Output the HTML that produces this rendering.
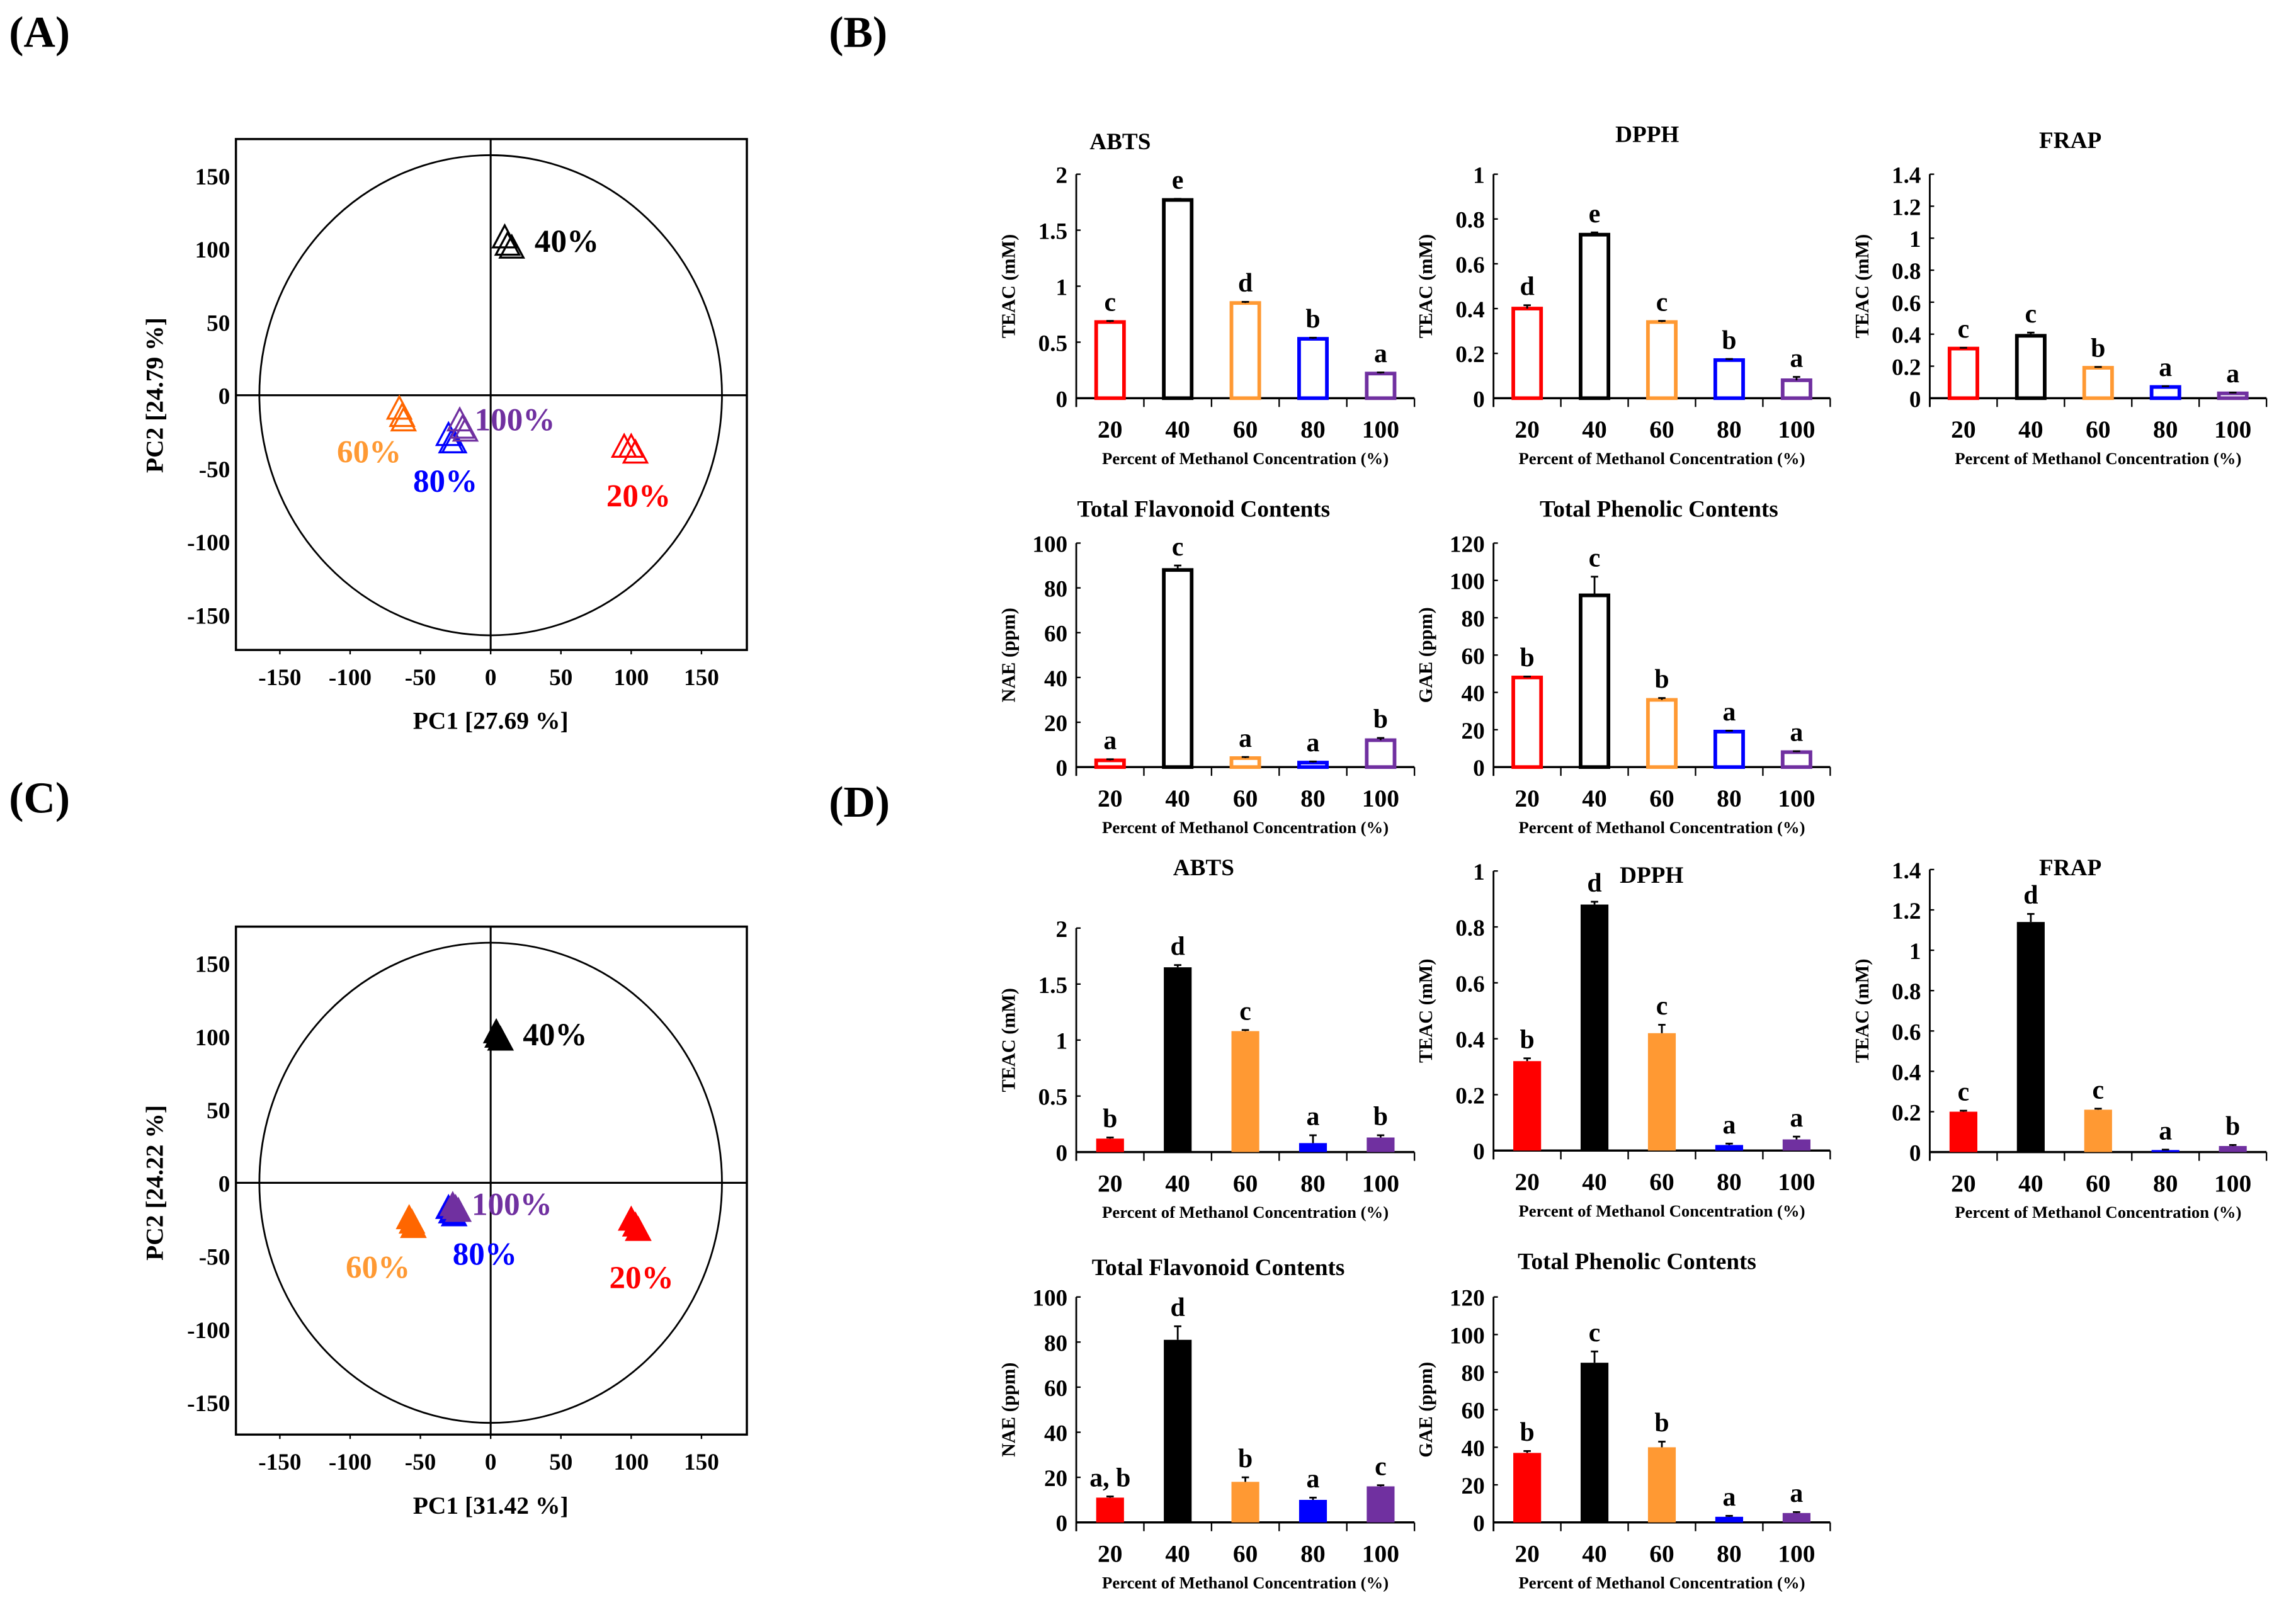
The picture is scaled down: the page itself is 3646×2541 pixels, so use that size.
<!DOCTYPE html>
<html><head><meta charset="utf-8">
<style>
html,body{margin:0;padding:0;background:#fff;}
svg{display:block;}
text{font-family:"Liberation Serif",serif;font-weight:bold;}
</style></head>
<body>
<svg id="fig" width="3646" height="2541" viewBox="0 0 1568 1093" xmlns="http://www.w3.org/2000/svg">
<text x="6" y="32" font-size="30">(A)</text>
<text x="566" y="32" font-size="30">(B)</text>
<text x="6" y="555" font-size="30">(C)</text>
<text x="566" y="558" font-size="30">(D)</text>
</svg>
<script>
// ---------- data ----------
const categories = ["20","40","60","80","100"];
const colors = ["#ff0000","#000000","#ff9933","#0000ff","#7030a0"];
const pcaGroups = ["20%","40%","60%","80%","100%"];
const pcaA_x = [[95,100,103],[10,12,15],[-65,-63,-62],[-30,-28,-26],[-22,-20,-18]];
const pcaA_y = [[-38,-38,-42],[105,100,98],[-12,-17,-20],[-30,-35,-35],[-20,-25,-27]];
const pcaC_x = [[100,103,105],[4,5,7],[-58,-56,-55],[-30,-28,-26],[-27,-25,-23]];
const pcaC_y = [[-28,-32,-35],[100,97,95],[-27,-30,-33],[-20,-23,-25],[-18,-20,-22]];
const pcaTicks = [-150,-100,-50,0,50,100,150];

const bAbts = [0.68,1.77,0.85,0.53,0.22], bAbtsErr=[0.01,0.01,0.01,0.01,0.01], bAbtsL=["c","e","d","b","a"];
const bDpph = [0.40,0.73,0.34,0.17,0.08], bDpphErr=[0.015,0.01,0.005,0.005,0.015], bDpphL=["d","e","c","b","a"];
const bFrap = [0.31,0.39,0.19,0.07,0.03], bFrapErr=[0.005,0.02,0.005,0.005,0.005], bFrapL=["c","c","b","a","a"];
const bTfc = [3,88,4,2,12], bTfcErr=[0.5,2,0.5,0.5,1], bTfcL=["a","c","a","a","b"];
const bTpc = [48,92,36,19,8], bTpcErr=[0.5,10,1,0.5,0.5], bTpcL=["b","c","b","a","a"];
const dAbts = [0.12,1.65,1.08,0.08,0.13], dAbtsErr=[0.01,0.02,0.01,0.07,0.02], dAbtsL=["b","d","c","a","b"];
const dDpph = [0.32,0.88,0.42,0.02,0.04], dDpphErr=[0.01,0.01,0.03,0.005,0.01], dDpphL=["b","d","c","a","a"];
const dFrap = [0.20,1.14,0.21,0.01,0.03], dFrapErr=[0.005,0.04,0.005,0.002,0.005], dFrapL=["c","d","c","a","b"];
const dTfc = [11,81,18,10,16], dTfcErr=[0.5,6,2,1,0.5], dTfcL=["a, b","d","b","a","c"];
const dTpc = [37,85,40,3,5], dTpcErr=[1,6,3,0.5,0.5], dTpcL=["b","c","b","a","a"];
const ticks2 = ["0","0.5","1","1.5","2"], ticks1=["0","0.2","0.4","0.6","0.8","1"], ticks14=["0","0.2","0.4","0.6","0.8","1","1.2","1.4"];
const ticks100=["0","20","40","60","80","100"], ticks120=["0","20","40","60","80","100","120"];

// ---------- helpers ----------
const NS="http://www.w3.org/2000/svg";
const svg=document.getElementById('fig');
function el(tag,attrs,parent,txt){const e=document.createElementNS(NS,tag);for(const k in attrs)e.setAttribute(k,attrs[k]);if(txt!==undefined)e.textContent=txt;(parent||svg).appendChild(e);return e;}

// ---------- PCA ----------
function pca(o){
  const g=el('g',{});
  
  
  const sx=v=>o.cx+v*o.kx, sy=v=>o.cy-v*o.ky;
  el('rect',{x:o.L,y:o.T,width:o.R-o.L,height:o.B-o.T,fill:'none',stroke:'#000','stroke-width':1.5},g);
  el('line',{x1:o.L,y1:o.cy,x2:o.R,y2:o.cy,stroke:'#000','stroke-width':1.3},g);
  el('line',{x1:o.cx,y1:o.T,x2:o.cx,y2:o.B,stroke:'#000','stroke-width':1.3},g);
  el('ellipse',{cx:o.cx,cy:o.cy,rx:158,ry:164,fill:'none',stroke:'#000','stroke-width':1.2},g);
  pcaTicks.forEach(t=>{
    const lx=el('text',{x:sx(t),y:o.B+24,'font-size':16,'text-anchor':'middle'},g,String(t));
    
    
    el('line',{x1:sx(t),y1:o.B,x2:sx(t),y2:o.B+3,stroke:'#000'},g);
    const ly=el('text',{x:o.L-4,y:sy(t)+6,'font-size':16,'text-anchor':'end'},g,String(t));
    
    
  });
  const xt=el('text',{x:o.cx,y:o.B+54,'font-size':17,'text-anchor':'middle'},g,o.xt);
  
  
  const yt=el('text',{x:0,y:0,'font-size':17,'text-anchor':'middle',transform:`translate(${o.L-50},${o.cy}) rotate(-90)`},g,o.yt);
  
  
  o.xs.forEach((arr,gi)=>{
    arr.forEach((v,j)=>{
      const x=sx(v),y=sy(o.ys[gi][j]);
      const c=(gi===2)?'#ff6600':colors[gi];
      const p=el('path',{d:`M${x},${y-11} L${x+8},${y+4} L${x-8},${y+4} Z`,fill:o.filled?c:'none',stroke:c,'stroke-width':1.4},g);
      
      
    });
    const lab=el('text',{x:o.lab[gi][0],y:o.lab[gi][1],'font-size':22,fill:gi===2?'#ff9933':colors[gi]},g,pcaGroups[gi]);
    
    
  });
}
pca({name:'pca-plot-a',L:161,R:510,T:95,B:444,cx:335,cy:270,kx:0.96,ky:1.0,xs:pcaA_x,ys:pcaA_y,filled:false,
  xt:'PC1 [27.69 %]',yt:'PC2 [24.79 %]',lab:[[414,346],[365,172],[230,316],[282,336],[324,294]]});
pca({name:'pca-plot-c',L:161,R:510,T:633,B:980,cx:335,cy:808,kx:0.96,ky:1.0,xs:pcaC_x,ys:pcaC_y,filled:true,
  xt:'PC1 [31.42 %]',yt:'PC2 [24.22 %]',lab:[[416,880],[357,714],[236,873],[309,864],[322,830]]});

// ---------- bar charts ----------
function bar(o){
  const g=el('g',{});
  
  
  const max=parseFloat(o.ticks[o.ticks.length-1]);
  const sy=v=>o.y0-(v/max)*(o.y0-o.yTop);
  const w=(o.x1-o.x0)/categories.length;
  const sx=i=>o.x0+(i+0.5)*w;
  el('line',{x1:o.x0,y1:o.yTop,x2:o.x0,y2:o.y0+6,stroke:'#000','stroke-width':1.2},g);
  el('line',{x1:o.x0,y1:o.y0,x2:o.x1,y2:o.y0,stroke:'#000','stroke-width':1.5},g);
  o.ticks.forEach(t=>{
    const y=sy(parseFloat(t));
    el('line',{x1:o.x0,y1:y,x2:o.x0+3,y2:y,stroke:'#000'},g);
    const tl=el('text',{x:o.x0-6,y:y+6,'font-size':16,'text-anchor':'end'},g,t);
    
    
  });
  for(let i=0;i<=categories.length;i++) el('line',{x1:o.x0+i*w,y1:o.y0,x2:o.x0+i*w,y2:o.y0+6,stroke:'#000'},g);
  categories.forEach((c,i)=>{
    const t=el('text',{x:sx(i),y:o.y0+27,'font-size':17,'text-anchor':'middle'},g,c);
    
    
    const v=o.vals[i],e=o.err[i],bw=19;
    const r=el('rect',{x:sx(i)-bw/2,y:sy(v),width:bw,height:o.y0-sy(v),fill:o.filled?colors[i]:'#fff',stroke:colors[i],'stroke-width':o.filled?0:2.5},g);
    
    
    el('line',{x1:sx(i),y1:sy(v),x2:sx(i),y2:sy(v+e),stroke:'#000','stroke-width':1.2},g);
    el('line',{x1:sx(i)-2.5,y1:sy(v+e),x2:sx(i)+2.5,y2:sy(v+e),stroke:'#000','stroke-width':1.2},g);
    const l=el('text',{x:sx(i),y:sy(v+e)-7,'font-size':18,'text-anchor':'middle'},g,o.letters[i]);
    
    
  });
  const xt=el('text',{x:(o.x0+o.x1)/2,y:o.y0+45,'font-size':11.5,'text-anchor':'middle'},g,'Percent of Methanol Concentration (%)');
  
  
  const yt=el('text',{x:0,y:0,'font-size':13,'text-anchor':'middle',transform:`translate(${o.x0-42},${(o.yTop+o.y0)/2}) rotate(-90)`},g,o.yt);
  
  
  const ti=el('text',{x:o.tx,y:o.ty,'font-size':16,'text-anchor':'middle'},g,o.title);
  
  
}
bar({name:'b-abts-chart',x0:735,x1:966,y0:272,yTop:119,ticks:ticks2,vals:bAbts,err:bAbtsErr,letters:bAbtsL,filled:false,yt:'TEAC (mM)',title:'ABTS',tx:765,ty:102});
bar({name:'b-dpph-chart',x0:1020,x1:1250,y0:272,yTop:119,ticks:ticks1,vals:bDpph,err:bDpphErr,letters:bDpphL,filled:false,yt:'TEAC (mM)',title:'DPPH',tx:1125,ty:97});
bar({name:'b-frap-chart',x0:1318,x1:1548,y0:272,yTop:119,ticks:ticks14,vals:bFrap,err:bFrapErr,letters:bFrapL,filled:false,yt:'TEAC (mM)',title:'FRAP',tx:1414,ty:101});
bar({name:'b-flavonoid-chart',x0:735,x1:966,y0:524,yTop:371,ticks:ticks100,vals:bTfc,err:bTfcErr,letters:bTfcL,filled:false,yt:'NAE (ppm)',title:'Total Flavonoid Contents',tx:822,ty:353});
bar({name:'b-phenolic-chart',x0:1020,x1:1250,y0:524,yTop:371,ticks:ticks120,vals:bTpc,err:bTpcErr,letters:bTpcL,filled:false,yt:'GAE (ppm)',title:'Total Phenolic Contents',tx:1133,ty:353});
bar({name:'d-abts-chart',x0:735,x1:966,y0:787,yTop:634,ticks:ticks2,vals:dAbts,err:dAbtsErr,letters:dAbtsL,filled:true,yt:'TEAC (mM)',title:'ABTS',tx:822,ty:598});
bar({name:'d-dpph-chart',x0:1020,x1:1250,y0:786,yTop:595,ticks:ticks1,vals:dDpph,err:dDpphErr,letters:dDpphL,filled:true,yt:'TEAC (mM)',title:'DPPH',tx:1128,ty:603});
bar({name:'d-frap-chart',x0:1318,x1:1548,y0:787,yTop:594,ticks:ticks14,vals:dFrap,err:dFrapErr,letters:dFrapL,filled:true,yt:'TEAC (mM)',title:'FRAP',tx:1414,ty:598});
bar({name:'d-flavonoid-chart',x0:735,x1:966,y0:1040,yTop:886,ticks:ticks100,vals:dTfc,err:dTfcErr,letters:dTfcL,filled:true,yt:'NAE (ppm)',title:'Total Flavonoid Contents',tx:832,ty:871});
bar({name:'d-phenolic-chart',x0:1020,x1:1250,y0:1040,yTop:886,ticks:ticks120,vals:dTpc,err:dTpcErr,letters:dTpcL,filled:true,yt:'GAE (ppm)',title:'Total Phenolic Contents',tx:1118,ty:867});
</script>
</body></html>
